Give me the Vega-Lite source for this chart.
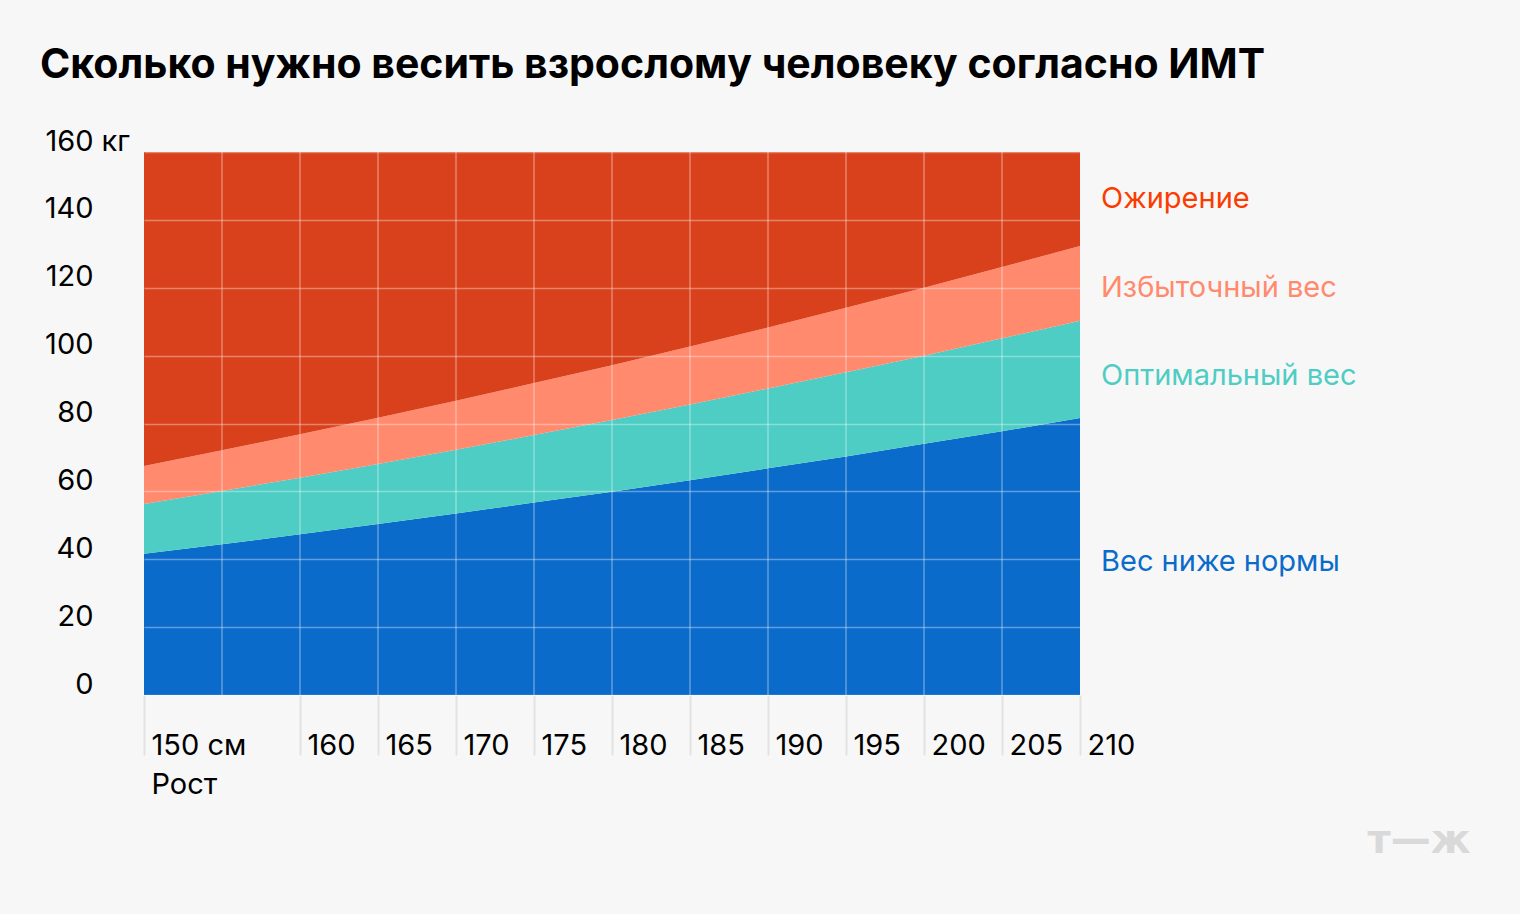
{
  "$schema": "https://vega.github.io/schema/vega-lite/v6.json",
  "autosize": {"type": "none"},
  "width": 936,
  "height": 543,
  "padding": {"left": 144, "top": 152, "right": 440, "bottom": 219},
  "background": "#f7f7f7",
  "config": {
    "view": {"stroke": null},
    "font": "Inter",
    "text": {"font": "Inter"}
  },
  "title": {
    "text": "Сколько нужно весить взрослому человеку согласно ИМТ",
    "anchor": "start",
    "frame": "group",
    "dx": -104,
    "fontSize": 41,
    "fontWeight": "bold",
    "font": "Inter",
    "color": "#000000",
    "offset": 40
  },
  "datasets": {
    "bmi": [
      {"height": 150, "under": 41.6, "normal": 56.3, "over": 67.5, "top": 160},
      {"height": 155, "under": 44.4, "normal": 60.1, "over": 72.1, "top": 160},
      {"height": 160, "under": 47.4, "normal": 64.0, "over": 76.8, "top": 160},
      {"height": 165, "under": 50.4, "normal": 68.1, "over": 81.7, "top": 160},
      {"height": 170, "under": 53.5, "normal": 72.3, "over": 86.7, "top": 160},
      {"height": 175, "under": 56.7, "normal": 76.6, "over": 91.9, "top": 160},
      {"height": 180, "under": 59.9, "normal": 81.0, "over": 97.2, "top": 160},
      {"height": 185, "under": 63.3, "normal": 85.6, "over": 102.7, "top": 160},
      {"height": 190, "under": 66.8, "normal": 90.3, "over": 108.3, "top": 160},
      {"height": 195, "under": 70.3, "normal": 95.1, "over": 114.1, "top": 160},
      {"height": 200, "under": 74.0, "normal": 100.0, "over": 120.0, "top": 160},
      {"height": 205, "under": 77.7, "normal": 105.1, "over": 126.1, "top": 160},
      {"height": 210, "under": 81.6, "normal": 110.3, "over": 132.3, "top": 160}
    ],
    "grid": [
      {"height": 155}, {"height": 160}, {"height": 165}, {"height": 170},
      {"height": 175}, {"height": 180}, {"height": 185}, {"height": 190},
      {"height": 195}, {"height": 200}, {"height": 205}
    ],
    "labels": [
      {"zone": "Ожирение", "kg": 146.2, "h": 210},
      {"zone": "Избыточный вес", "kg": 120.0, "h": 210},
      {"zone": "Оптимальный вес", "kg": 94.0, "h": 210},
      {"zone": "Вес ниже нормы", "kg": 39.2, "h": 210}
    ],
    "logo": [{"text": "т—ж", "h": 210, "kg": 0}]
  },
  "layer": [
    {
      "data": {"name": "bmi"},
      "mark": {"type": "area", "color": "#0b6bcb"},
      "encoding": {
        "x": {
          "field": "height", "type": "quantitative",
          "scale": {"domain": [150, 210], "nice": false},
          "axis": {
            "values": [150, 160, 165, 170, 175, 180, 185, 190, 195, 200, 205, 210],
            "grid": false,
            "domain": false,
            "ticks": true,
            "tickSize": 60,
            "tickColor": "#e2e2e2",
            "tickWidth": 2,
            "labelAlign": "left",
            "labelBaseline": "middle",
            "labelPadding": -10,
            "labelOffset": 7,
            "labelFontSize": 29,
            "labelFont": "Inter",
            "labelColor": "#000000",
            "labelFlush": false,
            "labelOverlap": false,
            "labelExpr": "datum.value == 150 ? '150 см' : datum.label",
            "title": "Рост",
            "titleAnchor": "start",
            "titleAlign": "left",
            "titleBaseline": "middle",
            "titleX": 7,
            "titleY": 89,
            "titleFontSize": 29,
            "titleFontWeight": "normal",
            "titleFont": "Inter",
            "titleColor": "#000000"
          }
        },
        "y": {
          "field": "under", "type": "quantitative",
          "scale": {"domain": [0, 160], "nice": false},
          "axis": {
            "values": [0, 20, 40, 60, 80, 100, 120, 140, 160],
            "grid": true,
            "gridColor": "#ffffff",
            "gridOpacity": 0.35,
            "gridWidth": 1.5,
            "zindex": 1,
            "domain": false,
            "ticks": false,
            "labelPadding": 51,
            "labelOffset": -11,
            "labelBaseline": "middle",
            "labelFontSize": 29,
            "labelFont": "Inter",
            "labelColor": "#000000",
            "title": "кг",
            "titleAngle": 0,
            "titleAlign": "left",
            "titleBaseline": "middle",
            "titleX": -43,
            "titleY": -11,
            "titleFontSize": 29,
            "titleFontWeight": "normal",
            "titleFont": "Inter",
            "titleColor": "#000000"
          }
        }
      }
    },
    {
      "data": {"name": "bmi"},
      "mark": {"type": "area", "color": "#4ecdc4"},
      "encoding": {
        "x": {"field": "height", "type": "quantitative"},
        "y": {"field": "normal", "type": "quantitative"},
        "y2": {"field": "under"}
      }
    },
    {
      "data": {"name": "bmi"},
      "mark": {"type": "area", "color": "#ff8a6e"},
      "encoding": {
        "x": {"field": "height", "type": "quantitative"},
        "y": {"field": "over", "type": "quantitative"},
        "y2": {"field": "normal"}
      }
    },
    {
      "data": {"name": "bmi"},
      "mark": {"type": "area", "color": "#d9411c"},
      "encoding": {
        "x": {"field": "height", "type": "quantitative"},
        "y": {"field": "top", "type": "quantitative"},
        "y2": {"field": "over"}
      }
    },
    {
      "data": {"name": "grid"},
      "mark": {"type": "rule", "color": "#ffffff", "opacity": 0.35, "strokeWidth": 1.5},
      "encoding": {
        "x": {"field": "height", "type": "quantitative"}
      }
    },
    {
      "data": {"name": "labels"},
      "mark": {"type": "text", "align": "left", "baseline": "middle", "fontSize": 29, "dx": 21, "font": "Inter"},
      "encoding": {
        "x": {"field": "h", "type": "quantitative"},
        "y": {"field": "kg", "type": "quantitative"},
        "text": {"field": "zone", "type": "nominal"},
        "color": {
          "field": "zone", "type": "nominal",
          "scale": {
            "domain": ["Ожирение", "Избыточный вес", "Оптимальный вес", "Вес ниже нормы"],
            "range": ["#fa3c00", "#ff8a6e", "#4ecdc4", "#0b6bcb"]
          },
          "legend": null
        }
      }
    },
    {
      "data": {"name": "logo"},
      "mark": {"type": "text", "align": "center", "baseline": "middle", "fontSize": 40, "fontWeight": "bold", "font": "DejaVu Sans", "color": "#d9d9d9", "dx": 339, "dy": 146},
      "encoding": {
        "x": {"field": "h", "type": "quantitative"},
        "y": {"field": "kg", "type": "quantitative"},
        "text": {"field": "text", "type": "nominal"}
      }
    }
  ]
}
